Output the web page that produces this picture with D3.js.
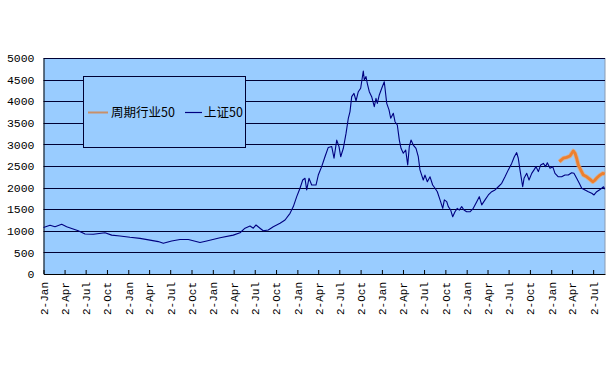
<!DOCTYPE html>
<html>
<head>
<meta charset="utf-8">
<script src="https://cdn.jsdelivr.net/npm/d3@7"></script>
<style>
  html, body { margin: 0; padding: 0; background: #ffffff; }
  svg { display: block; }
</style>
</head>
<body>
<svg id="chart" width="608" height="378"></svg>
<script>
// ---- Data (time in years since 2-Jan-2004) ----
const sz50Time = [0.000,0.077,0.136,0.215,0.274,0.333,0.411,0.491,0.589,0.727,0.806,0.904,1.022,1.141,1.259,1.357,1.416,1.515,1.613,1.712,1.850,1.929,2.087,2.243,2.323,2.382,2.441,2.480,2.512,2.559,2.598,2.657,2.716,2.796,2.855,2.914,2.953,2.993,3.032,3.064,3.091,3.111,3.138,3.170,3.221,3.248,3.288,3.327,3.366,3.407,3.434,3.466,3.493,3.513,3.544,3.576,3.603,3.623,3.643,3.670,3.694,3.721,3.749,3.780,3.792,3.812,3.827,3.851,3.879,3.910,3.930,3.946,3.969,3.998,4.028,4.057,4.084,4.104,4.135,4.155,4.182,4.206,4.226,4.253,4.281,4.305,4.324,4.344,4.371,4.403,4.430,4.450,4.470,4.489,4.509,4.537,4.569,4.600,4.628,4.655,4.687,4.719,4.738,4.766,4.785,4.813,4.837,4.864,4.891,4.915,4.943,4.970,5.002,5.041,5.080,5.121,5.151,5.180,5.219,5.258,5.298,5.337,5.376,5.416,5.455,5.494,5.534,5.565,5.593,5.612,5.632,5.664,5.680,5.712,5.739,5.771,5.798,5.822,5.849,5.877,5.908,5.936,5.955,5.987,6.019,6.046,6.085,6.125,6.164,6.203,6.243,6.270,6.302,6.333,6.362,6.401,6.440,6.480,6.507,6.539,6.570,6.598,6.620,6.634];
const sz50Value = [1078,1130,1095,1150,1095,1055,1000,925,920,955,900,880,850,825,785,750,710,765,800,800,730,765,840,900,955,1060,1110,1060,1135,1060,1000,1020,1095,1175,1250,1405,1560,1790,1985,2175,2215,1945,2215,2060,2060,2290,2485,2715,2930,2950,2680,3100,2950,2715,2910,3255,3605,3760,4105,4180,4010,4220,4300,4700,4490,4570,4415,4220,4105,3875,4065,3950,4145,4300,4450,3950,3800,3605,3720,3525,3450,3100,2910,2795,2870,2525,2950,3100,2985,2910,2715,2410,2290,2175,2290,2135,2250,2060,1985,1905,1715,1520,1715,1675,1560,1480,1325,1440,1520,1480,1560,1480,1440,1440,1520,1675,1790,1600,1715,1830,1905,1945,2020,2100,2250,2410,2560,2715,2810,2680,2410,2020,2215,2330,2175,2330,2410,2485,2370,2525,2560,2485,2575,2450,2485,2330,2250,2250,2290,2290,2345,2330,2215,2100,1985,1945,1905,1870,1830,1905,1945,1985,2020,1960];

const cycTime  = [6.097,6.144,6.184,6.223,6.262,6.283,6.302,6.321,6.350,6.381,6.421,6.460,6.492,6.519,6.546,6.578,6.610,6.634];
const cycValue = [2600,2680,2700,2730,2850,2795,2680,2525,2410,2290,2250,2190,2135,2175,2235,2290,2330,2315];

const yTicks = [0,500,1000,1500,2000,2500,3000,3500,4000,4500,5000];
const tickYears = [2004,2005,2006,2007,2008,2009,2010];
const tickMonths = [0,3,6,9];
const seriesNames = ["周期行业50","上证50"];
const seriesColors = ["#EE7F2D","#000080"];

// ---- Layout ----
const svg = d3.select("#chart");
const plot = {left: 43.5, right: 605, top: 58, bottom: 274};
const start = Date.UTC(2004,0,2);
const toDate = t => new Date(start + t*365.25*864e5);

const x = d3.scaleUtc().domain([toDate(0), toDate(6.637)]).range([plot.left, plot.right]);
const y = d3.scaleLinear().domain([0,5000]).range([plot.bottom, plot.top]);

// plot background
svg.append("rect").attr("x", plot.left).attr("y", plot.top)
  .attr("width", plot.right - plot.left).attr("height", plot.bottom - plot.top)
  .attr("fill", "#99CCFF");
svg.append("line").attr("x1", plot.right).attr("x2", plot.right)
  .attr("y1", plot.top).attr("y2", plot.bottom).attr("stroke", "#8a9bb0").attr("stroke-width", 1);

// gridlines
svg.append("g").selectAll("line").data(yTicks.filter(d => d > 0)).join("line")
  .attr("x1", plot.left).attr("x2", plot.right)
  .attr("y1", d => Math.round(y(d)) + 0.5).attr("y2", d => Math.round(y(d)) + 0.5)
  .attr("stroke", "#000033").attr("stroke-width", 1);

// y axis
const yAxis = d3.axisLeft(y).tickValues(yTicks).tickSize(0).tickPadding(9).tickFormat(d3.format("d"));
const gy = svg.append("g").attr("transform", `translate(${plot.left},0)`).call(yAxis);
gy.select(".domain").attr("stroke", "#000000");
gy.selectAll("text").attr("font-family", "Liberation Mono, monospace").attr("font-size", "11.5px").attr("fill", "#000");

// x axis ticks
const tickDates = [];
tickYears.forEach(yr => tickMonths.forEach(m => {
  const d = new Date(Date.UTC(yr, m, 2));
  if (d <= x.domain()[1]) tickDates.push(d);
}));
const xAxis = d3.axisBottom(x).tickValues(tickDates).tickSizeInner(-4).tickSizeOuter(0)
  .tickPadding(8).tickFormat(d3.utcFormat("%-d-%b"));
const gx = svg.append("g").attr("transform", `translate(0,${plot.bottom})`).call(xAxis);
gx.select(".domain").attr("stroke", "#000000");
gx.selectAll(".tick line").attr("stroke", "#000000");
gx.selectAll("text")
  .attr("font-family", "Liberation Mono, monospace").attr("font-size", "11px").attr("fill", "#000")
  .attr("text-anchor", "end").attr("transform", "rotate(-90)")
  .attr("x", -8).attr("y", 0).attr("dy", "0.35em");

// lines
const line = d3.line().x(d => x(toDate(d[0]))).y(d => y(d[1]));
const sz50 = sz50Time.map((t,i) => [t, sz50Value[i]]);
const cyc = cycTime.map((t,i) => [t, cycValue[i]]);

svg.append("path").datum(sz50).attr("d", line).attr("fill", "none")
  .attr("stroke", seriesColors[1]).attr("stroke-width", 1.1).attr("stroke-linejoin", "round");
svg.append("path").datum(cyc).attr("d", line).attr("fill", "none")
  .attr("stroke", "#F4A460").attr("stroke-width", 4.5).attr("stroke-opacity", 0.6).attr("stroke-linejoin", "round");
svg.append("path").datum(cyc).attr("d", line).attr("fill", "none")
  .attr("stroke", seriesColors[0]).attr("stroke-width", 2.8).attr("stroke-linejoin", "round");

// legend
const lg = svg.append("g");
lg.append("rect").attr("x", 83.5).attr("y", 76.5).attr("width", 162).attr("height", 71)
  .attr("fill", "#99CCFF").attr("stroke", "#000033").attr("stroke-width", 1);
const lgItems = [{x: 88, w: 20, tx: 111}, {x: 185, w: 17, tx: 204}];
lgItems.forEach((it, i) => {
  lg.append("line").attr("x1", it.x).attr("x2", it.x + it.w).attr("y1", 112.5).attr("y2", 112.5)
    .attr("stroke", i === 0 ? "#C8906A" : seriesColors[1]).attr("stroke-width", i === 0 ? 2 : 1.2);
  lg.append("text").attr("x", it.tx).attr("y", 113).attr("dy", "0.35em")
    .attr("font-family", "Noto Sans CJK SC, sans-serif").attr("font-size", "12.5px").attr("fill", "#000")
    .text(seriesNames[i]);
});
</script>
</body>
</html>
